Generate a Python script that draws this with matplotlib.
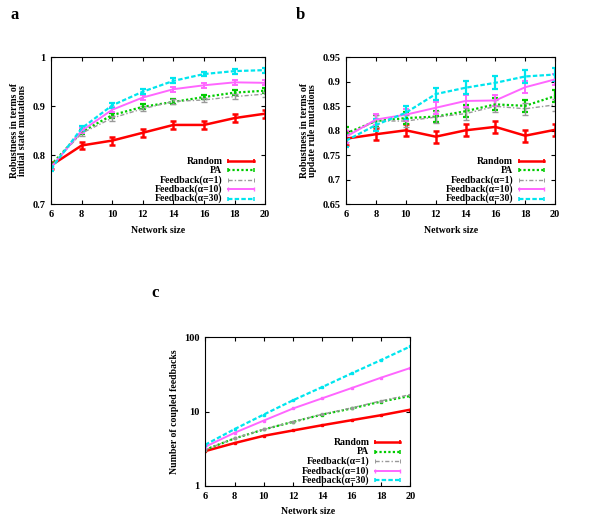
import matplotlib
matplotlib.use("Agg")
import matplotlib.pyplot as plt
from matplotlib.lines import Line2D
from matplotlib.ticker import FixedLocator, NullLocator

plt.rcParams['font.family'] = ['Liberation Serif', 'DejaVu Serif']
plt.rcParams['font.weight'] = 'bold'
plt.rcParams['font.size'] = 7

sizes = [6, 8, 10, 12, 14, 16, 18, 20]
names = ['Random', 'PA', 'Feedback(α=1)', 'Feedback(α=10)', 'Feedback(α=30)']

# panel a: robustness against initial state mutations
init_random = [0.779, 0.820, 0.830, 0.846, 0.862, 0.862, 0.876, 0.885]
init_pa = [0.780, 0.848, 0.882, 0.899, 0.909, 0.919, 0.928, 0.932]
init_fb1 = [0.778, 0.845, 0.876, 0.895, 0.910, 0.913, 0.920, 0.925]
init_fb10 = [0.775, 0.850, 0.893, 0.918, 0.935, 0.943, 0.949, 0.948]
init_fb30 = [0.772, 0.855, 0.902, 0.930, 0.952, 0.966, 0.972, 0.974]
init_err = [0.008, 0.005, 0.005, 0.005, 0.005]

# panel b: robustness against update rule mutations
rule_random = [0.784, 0.793, 0.801, 0.788, 0.801, 0.808, 0.790, 0.802]
rule_pa = [0.795, 0.820, 0.826, 0.829, 0.840, 0.854, 0.851, 0.871]
rule_fb1 = [0.790, 0.820, 0.820, 0.828, 0.835, 0.850, 0.845, 0.853]
rule_fb10 = [0.788, 0.823, 0.833, 0.847, 0.861, 0.862, 0.889, 0.905]
rule_fb30 = [0.780, 0.812, 0.837, 0.875, 0.888, 0.898, 0.911, 0.915]
rule_err = [0.012, 0.012, 0.012, 0.012, 0.013]

# panel c: number of coupled feedbacks
cf_random = [2.94, 3.77, 4.72, 5.57, 6.56, 7.66, 8.93, 10.6]
cf_pa = [3.07, 4.35, 5.74, 7.28, 9.12, 11.0, 13.6, 16.2]
cf_fb1 = [3.07, 4.37, 5.76, 7.32, 9.2, 11.2, 13.9, 16.9]
cf_fb10 = [3.36, 5.18, 7.57, 11.0, 15.1, 20.7, 28.5, 38.5]
cf_fb30 = [3.58, 5.80, 9.12, 14.2, 21.4, 32.6, 49.2, 75.0]

styles = [
    dict(color='#ff0000', lw=1.8, ls='-'),
    dict(color='#00cc00', lw=1.6, ls=(0, (1, 1))),
    dict(color='#999999', lw=1.0, ls=(0, (3, 1.5, 1, 1.5))),
    dict(color='#ff66ff', lw=1.4, ls='-'),
    dict(color='#00e5ee', lw=1.6, ls=(0, (2, 1))),
]


def draw_legend(ax):
    """gnuplot-like key: right aligned label, line sample on its right"""
    for i, (name, st) in enumerate(zip(names, styles)):
        y = 0.294 - i * 0.064
        ax.text(0.80, y, name, transform=ax.transAxes, ha='right',
                va='center', fontsize=7, fontweight='bold')
        ax.add_line(Line2D([0.826, 0.949], [y, y], transform=ax.transAxes,
                           marker='|', ms=3, mew=st['lw'] * 0.7,
                           clip_on=False, **st))


def style_axes(ax, xlabel, ylabel):
    ax.set_xlim(6, 20)
    ax.set_xticks(sizes)
    ax.tick_params(direction='in', top=True, right=True, labelsize=7.5,
                   length=3, pad=4)
    ax.set_xlabel(xlabel, fontsize=7, fontweight='bold', labelpad=5)
    ax.set_ylabel(ylabel, fontsize=7, fontweight='bold', linespacing=0.9)
    for lbl in ax.get_xticklabels() + ax.get_yticklabels():
        lbl.set_fontweight('bold')
    draw_legend(ax)


def draw_panel(ax, series, errs):
    for name, vals, err, st in zip(names, series, errs, styles):
        if err is None:
            ax.plot(sizes, vals, label=name, marker='s', ms=1.6, **st)
        else:
            ax.errorbar(sizes, vals, yerr=err, label=name, capsize=2,
                        elinewidth=st['lw'], capthick=st['lw'], **st)


fig = plt.figure(figsize=(6, 5.17), dpi=100)

ax_a = fig.add_axes([0.085, 0.605, 0.357, 0.284])
draw_panel(ax_a, [init_random, init_pa, init_fb1, init_fb10, init_fb30], init_err)
ax_a.set_ylim(0.7, 1.0)
ax_a.set_yticks([0.7, 0.8, 0.9, 1.0])
ax_a.set_yticklabels(['0.7', '0.8', '0.9', '1'])
style_axes(ax_a, 'Network size', 'Robustness in terms of\ninitial state mutations')

ax_b = fig.add_axes([0.577, 0.605, 0.348, 0.284])
draw_panel(ax_b, [rule_random, rule_pa, rule_fb1, rule_fb10, rule_fb30], rule_err)
ax_b.set_ylim(0.65, 0.95)
ax_b.set_yticks([0.65, 0.7, 0.75, 0.8, 0.85, 0.9, 0.95])
ax_b.set_yticklabels(['0.65', '0.7', '0.75', '0.8', '0.85', '0.9', '0.95'])
style_axes(ax_b, 'Network size', 'Robustness in terms of\nupdate rule mutations')

ax_c = fig.add_axes([0.342, 0.060, 0.342, 0.288])
draw_panel(ax_c, [cf_random, cf_pa, cf_fb1, cf_fb10, cf_fb30], [None] * 5)
ax_c.set_yscale('log')
ax_c.set_ylim(1, 100)
ax_c.yaxis.set_major_locator(FixedLocator([1, 10, 100]))
ax_c.yaxis.set_minor_locator(NullLocator())
ax_c.set_yticklabels(['1', '10', '100'])
style_axes(ax_c, 'Network size', 'Number of coupled feedbacks')

fig.text(0.018, 0.987, 'a', fontsize=12, fontweight='bold', va='top')
fig.text(0.493, 0.987, 'b', fontsize=12, fontweight='bold', va='top')
fig.text(0.252, 0.448, 'c', fontsize=12, fontweight='bold', va='top')

fig.savefig('out.png', dpi=100)
